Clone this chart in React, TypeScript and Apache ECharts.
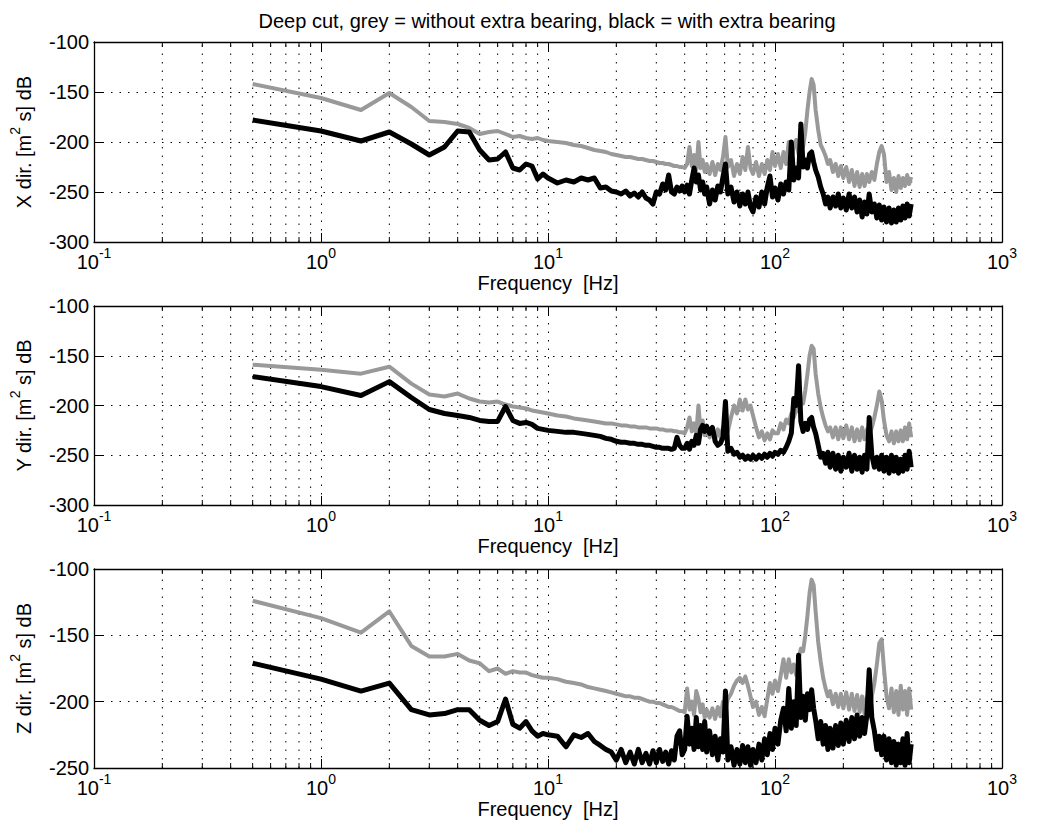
import React, { useEffect, useRef } from 'react';
import * as echarts from 'echarts';

// Frequency grid shared by all series (Hz)
const FREQ = [
  0.5, 1, 1.5, 2, 2.5, 3, 3.5, 4, 4.5, 5, 5.5, 6, 6.5, 7, 7.5, 8, 8.5, 9, 9.5, 10,
  11, 12, 13, 14, 15, 16, 17, 18, 19, 20,
  21, 22, 23, 24, 25, 26, 27, 28, 29, 30, 31, 32, 33, 34, 35, 36, 37, 38, 39,
  40, 41, 42, 43, 44, 45, 46, 47, 48, 49, 50,
  51.5, 53, 54.5, 56, 57.5, 59, 60.5,
  62, 64, 66, 68, 70, 72, 74, 76, 78, 80,
  82.5, 85, 87.5, 90, 92.5, 95, 97.5, 100,
  103, 106, 109, 112, 115, 118, 121, 124, 127, 130, 133, 136, 139, 142, 145, 148, 151,
  155, 159, 163, 167, 171, 175,
  180, 185, 190, 195, 200,
  206, 212, 218, 224, 230, 236, 242, 248, 254, 260,
  267, 274, 281, 288, 295, 302,
  310, 318, 326, 334, 342, 350, 358, 366, 374, 382, 390, 398,
];

// X direction (dB)
const X_GREY = [
  -142, -156, -168, -151, -165, -179, -180, -182, -186, -192, -190, -189, -192, -195, -194, -196, -197, -196, -198, -199,
  -200, -201, -203, -204, -206, -208, -209, -210, -212, -213,
  -214, -215, -215, -216, -217, -217, -218, -219, -219, -220, -221, -221, -222, -222, -223, -224, -224, -225, -225,
  -226, -222, -205, -224, -213, -228, -200, -226, -218, -230, -222,
  -232, -220, -233, -222, -228, -215, -195,
  -225, -218, -234, -222, -232, -215, -228, -205, -226, -232,
  -220, -234, -222, -232, -218, -228, -210, -224,
  -212, -226, -210, -222, -200, -218, -205, -198, -212, -195, -205, -190, -168, -150, -137, -143, -168,
  -188, -203, -208, -214, -222, -218,
  -230, -222, -234, -224, -236,
  -225, -240, -228, -244, -230, -245, -232, -244, -232, -240,
  -230, -238, -222, -210, -204, -212,
  -240, -230, -248, -236, -250, -234, -246, -236, -244, -233, -242, -235,
];
const X_BLACK = [
  -178, -189, -199, -190, -202, -213, -205, -189, -190, -208, -218, -217, -210, -226, -228, -222, -224, -237, -232, -236,
  -241, -238, -240, -236, -238, -236, -246, -245, -249, -250,
  -252, -249, -254, -251, -255, -250, -256, -258, -262, -250, -252, -242, -248, -233, -250, -252, -245, -249, -244,
  -250, -243, -252, -238, -226, -240, -233, -248, -240, -252, -245,
  -262, -248, -258, -244, -250, -235, -222,
  -252, -245, -260, -250, -264, -252, -262, -250, -265, -270,
  -255, -265, -250, -262, -245, -234, -255, -246,
  -258, -242, -252, -240, -248, -200, -238, -226, -236, -182, -225, -218, -226, -212, -210, -220, -228,
  -235, -245, -252, -262, -255, -266,
  -255, -264, -252, -266, -256,
  -268, -252, -266, -255, -270, -258, -275, -260, -272, -252,
  -270, -262, -276, -263, -278, -265,
  -280, -266, -281, -268, -280, -266, -278, -264, -276, -262, -274, -262,
];

// Y direction (dB)
const Y_GREY = [
  -159, -164, -168, -161, -178, -189, -191, -188, -193, -196, -197, -196, -199, -201, -202, -203, -205, -206, -207, -208,
  -210, -211, -213, -214, -215, -216, -217, -218, -218, -219,
  -220, -220, -221, -221, -222, -222, -222, -223, -223, -223, -224, -224, -225, -225, -225, -226, -226, -227, -227,
  -228, -222, -212, -226, -218, -228, -200, -226, -215, -230, -220,
  -232, -222, -234, -224, -232, -222, -230,
  -226, -212, -200, -208, -194, -205, -194, -204, -200, -210,
  -222, -232, -226, -235, -228, -234, -225, -228,
  -228, -218, -224, -214, -218, -208, -212, -204, -206, -196, -198, -185, -168, -150, -140, -143, -168,
  -188, -202, -212, -220, -226, -222,
  -232, -222, -234, -222, -233,
  -220, -234, -222, -236, -224, -235, -222, -234, -224, -230,
  -222, -212, -200, -186, -195, -215,
  -230, -236, -226, -238, -226, -236, -225, -236, -222, -234, -218, -232,
];
const Y_BLACK = [
  -171, -181, -190, -176, -192, -204, -208, -210, -212, -215, -216, -216, -201, -215, -218, -217, -219, -223, -224, -225,
  -226, -227, -227, -228, -229, -230, -231, -233, -234, -236,
  -237, -237, -238, -238, -239, -239, -240, -240, -241, -242, -242, -243, -243, -243, -244, -243, -232, -240, -243,
  -243, -238, -244, -236, -240, -230, -238, -224, -220, -226, -221,
  -228, -222, -236, -240, -238, -232, -196,
  -246, -243, -249, -247, -252, -250, -254, -251, -254, -250,
  -254, -250, -253, -249, -252, -248, -251, -247,
  -249, -245, -247, -242, -236, -228, -193, -200, -160, -216, -226, -218, -224, -214, -212, -222, -228,
  -240, -252, -248, -258, -247, -262,
  -248, -264, -250, -266, -252,
  -262, -248, -266, -250, -264, -252, -267, -250, -264, -212,
  -250, -262, -252, -264, -250, -266,
  -252, -268, -250, -266, -252, -268, -254, -266, -250, -264, -246, -262,
];

// Z direction (dB)
const Z_GREY = [
  -124, -137, -148, -132, -158, -166, -166, -164, -169, -171, -177, -175, -179, -177, -178, -178, -180, -181, -182, -182,
  -183, -185, -186, -187, -189, -190, -191, -192, -193, -194,
  -195, -196, -196, -197, -197, -198, -199, -200, -200, -201, -201, -202, -203, -204, -204, -205, -206, -207, -207,
  -208, -190, -206, -200, -210, -192, -198, -208, -202, -212, -206,
  -212, -205, -213, -204, -211, -200, -206,
  -198, -194, -188, -184, -182, -186, -181, -188, -196, -204,
  -200, -210, -204, -211, -198, -186, -194, -184,
  -192, -180, -168, -182, -168, -178, -172, -180, -168, -160, -162, -150, -135, -118, -108, -112, -132,
  -155, -170, -182, -190, -196, -192,
  -202, -194, -204, -194, -205,
  -193, -206, -194, -207, -195, -208, -196, -209, -196, -208,
  -196, -186, -172, -156, -153, -175,
  -196, -205, -190, -208, -192, -210, -188, -206, -192, -210, -190, -206,
];
const Z_BLACK = [
  -171, -183, -192, -186, -206, -210, -209, -206, -206, -214, -218, -215, -198, -217, -220, -215, -222, -226, -224, -225,
  -226, -234, -225, -227, -224, -230, -233, -236, -238, -244,
  -236, -246, -238, -247, -236, -246, -239, -247, -237, -246, -236, -245, -238, -247, -237, -244, -226, -222, -240,
  -236, -211, -232, -220, -236, -212, -234, -218, -236, -215, -238,
  -222, -240, -226, -244, -228, -238, -192,
  -244, -234, -248, -236, -247, -233, -246, -234, -248, -236,
  -246, -232, -244, -228, -240, -224, -236, -220,
  -232, -214, -205, -222, -190, -220, -200, -218, -165, -212, -196, -214, -194, -206, -191, -205, -214,
  -228, -215, -232, -218, -236, -220,
  -235, -218, -233, -216, -232,
  -214, -230, -212, -228, -210, -226, -212, -224, -210, -176,
  -212, -222, -236, -226, -240, -226,
  -244, -228, -246, -230, -248, -232, -246, -228, -248, -224, -246, -232,
];

const PANEL_NAMES = ['X', 'Y', 'Z'];
const GREY_SERIES = [X_GREY, Y_GREY, Z_GREY];
const BLACK_SERIES = [X_BLACK, Y_BLACK, Z_BLACK];
const Y_MIN = [-300, -300, -250];
const Y_MAX = -100;
const Y_INTERVAL = 50;
const X_MIN = 0.1;
const X_MAX = 1000;
const TITLE = 'Deep cut, grey = without extra bearing, black = with extra bearing';
const X_NAME = 'Frequency  [Hz]';

const FONT = '"Liberation Sans", Arial, Helvetica, sans-serif';
const GRID_POS = [
  { top: 42, height: 200 },
  { top: 306, height: 199 },
  { top: 569, height: 199 },
];

// minor log ticks 2..9 of each decade
const MINOR_TICKS: number[] = [];
[0.1, 1, 10, 100].forEach((d) => {
  for (let k = 2; k <= 9; k++) MINOR_TICKS.push(+(k * d).toPrecision(3));
});

function pairs(vals: number[]) {
  return FREQ.map((f, i) => [f, vals[i]]).filter((p) => p[1] !== undefined);
}

function buildOption() {
  const grid: any[] = [];
  const xAxis: any[] = [];
  const yAxis: any[] = [];
  const series: any[] = [];
  const dotted = { color: '#000', width: 1, type: [1.5, 7] };

  for (let i = 0; i < 3; i++) {
    const yMin = Y_MIN[i];
    grid.push({ left: 92, right: 35, top: GRID_POS[i].top, height: GRID_POS[i].height, containLabel: false });
    const xBase = {
      gridIndex: i,
      type: 'log',
      logBase: 10,
      min: X_MIN,
      max: X_MAX,
      axisLine: { show: true, onZero: false, lineStyle: { color: '#000', width: 1.3 } },
      axisTick: { show: true, inside: true, length: 9, lineStyle: { color: '#000', width: 1 } },
    };
    xAxis.push({
      ...xBase,
      position: 'bottom',
      axisLabel: {
        show: true,
        margin: 4,
        formatter: (v: number) => `{b|10}{s|${Math.round(Math.log10(v))}}`,
        rich: {
          b: { fontSize: 20, fontFamily: FONT, color: '#000', lineHeight: 26, verticalAlign: 'bottom' },
          s: { fontSize: 14, fontFamily: FONT, color: '#000', lineHeight: 14, verticalAlign: 'top' },
        },
      },
      splitLine: { show: true, lineStyle: dotted },
      name: X_NAME,
      nameLocation: 'middle',
      nameGap: 30,
      nameTextStyle: { fontSize: 20, fontFamily: FONT, color: '#000' },
    });
    xAxis.push({ ...xBase, position: 'top', axisLabel: { show: false }, splitLine: { show: false } });

    const yBase = {
      gridIndex: i,
      type: 'value',
      min: yMin,
      max: Y_MAX,
      interval: Y_INTERVAL,
      axisLine: { show: true, lineStyle: { color: '#000', width: 1.3 } },
      axisTick: { show: true, inside: true, length: 9, lineStyle: { color: '#000', width: 1 } },
    };
    yAxis.push({
      ...yBase,
      position: 'left',
      axisLabel: { show: true, margin: 5, fontSize: 20, fontFamily: FONT, color: '#000' },
      splitLine: { show: true, lineStyle: dotted },
      name: `{a|${PANEL_NAMES[i]} dir. [m}{s|2}{a| s] dB}`,
      nameLocation: 'middle',
      nameRotate: 90,
      nameGap: 60,
      nameTextStyle: {
        rich: {
          a: { fontSize: 20, fontFamily: FONT, color: '#000', lineHeight: 26, verticalAlign: 'bottom' },
          s: { fontSize: 14, fontFamily: FONT, color: '#000', lineHeight: 14, verticalAlign: 'top' },
        },
      },
    });
    yAxis.push({ ...yBase, position: 'right', axisLabel: { show: false }, splitLine: { show: false } });

    // minor log grid lines and minor ticks
    series.push({
      type: 'custom',
      xAxisIndex: 2 * i,
      yAxisIndex: 2 * i,
      silent: true,
      clip: false,
      z: 1,
      data: MINOR_TICKS.map((f) => [f, yMin]),
      encode: { x: 0, y: 1 },
      renderItem: (_p: any, api: any) => {
        const f = api.value(0);
        const b = api.coord([f, yMin]);
        const t = api.coord([f, Y_MAX]);
        return {
          type: 'group',
          children: [
            { type: 'line', shape: { x1: b[0], y1: b[1], x2: t[0], y2: t[1] }, style: { stroke: '#000', lineWidth: 1, lineDash: [1.5, 7] } },
            { type: 'line', shape: { x1: b[0], y1: b[1], x2: b[0], y2: b[1] - 5 }, style: { stroke: '#000', lineWidth: 1 } },
            { type: 'line', shape: { x1: t[0], y1: t[1], x2: t[0], y2: t[1] + 5 }, style: { stroke: '#000', lineWidth: 1 } },
          ],
        };
      },
    });
    series.push({
      type: 'line',
      xAxisIndex: 2 * i,
      yAxisIndex: 2 * i,
      data: pairs(GREY_SERIES[i]),
      showSymbol: false,
      symbol: 'none',
      silent: true,
      z: 3,
      lineStyle: { color: '#999999', width: 4, join: 'round' },
    });
    series.push({
      type: 'line',
      xAxisIndex: 2 * i,
      yAxisIndex: 2 * i,
      data: pairs(BLACK_SERIES[i]),
      showSymbol: false,
      symbol: 'none',
      silent: true,
      z: 4,
      lineStyle: { color: '#000', width: 5, join: 'round' },
    });
  }

  return {
    animation: false,
    backgroundColor: '#fff',
    grid,
    xAxis,
    yAxis,
    series,
    graphic: [
      {
        type: 'text',
        x: 547,
        y: 21,
        style: { text: TITLE, fontSize: 20, fontFamily: FONT, fill: '#000', align: 'center', verticalAlign: 'middle' },
      },
    ],
  };
}

export default function App() {
  const ref = useRef<HTMLDivElement>(null);
  useEffect(() => {
    if (!ref.current) return;
    const chart = echarts.init(ref.current, undefined, { renderer: 'svg' });
    chart.setOption(buildOption() as any);
    return () => chart.dispose();
  }, []);
  return (
    <div
      ref={ref}
      style={{ position: 'fixed', left: 0, top: 0, width: 1037, height: 836, background: '#fff' }}
    />
  );
}
